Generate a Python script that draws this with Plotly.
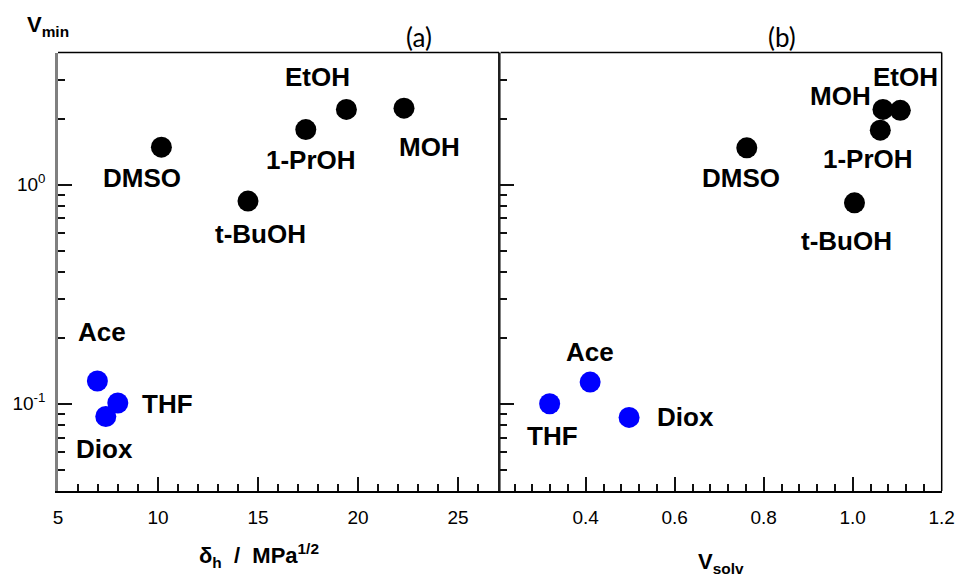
import math
import plotly.graph_objects as go

# ---- data ----
solvents_polar = ["DMSO", "t-BuOH", "1-PrOH", "EtOH", "MOH"]
solvents_apolar = ["Ace", "THF", "Diox"]

delta_h_polar = [10.17, 14.5, 17.39, 19.42, 22.3]
vmin_a_polar = [1.48, 0.84, 1.78, 2.20, 2.23]
delta_h_apolar = [6.97, 7.99, 7.39]
vmin_a_apolar = [0.127, 0.1008, 0.0875]

vsolv_polar = [0.762, 1.004, 1.062, 1.107, 1.068]
vmin_b_polar = [1.47, 0.825, 1.77, 2.18, 2.20]
vsolv_apolar = [0.41, 0.319, 0.4975]
vmin_b_apolar = [0.1256, 0.1, 0.0866]

ytick_vals = [0.1, 1]
ytick_text = ["10<sup>-1</sup>", "10<sup>0</sup>"]

# label offsets (pixels) relative to each point
off_a = {"DMSO": (-19, -31), "t-BuOH": (12, -33), "1-PrOH": (5, -30), "EtOH": (-29, 32),
         "MOH": (25, -39), "Ace": (5, 49), "THF": (50, -1), "Diox": (-1, -33)}
off_b = {"DMSO": (-6, -30), "t-BuOH": (-8, -38), "1-PrOH": (-12, -29), "EtOH": (5, 33),
         "MOH": (-42, 13), "Ace": (0, 30), "THF": (3, -32), "Diox": (56, 0)}

W, H = 957, 582
fig = go.Figure()

MS = 21
def add_pts(x, y, color, xa, ya):
    fig.add_trace(go.Scatter(x=x, y=y, mode="markers", xaxis=xa, yaxis=ya,
                             marker=dict(size=MS, color=color, line=dict(width=0)),
                             showlegend=False, hoverinfo="skip"))

add_pts(delta_h_polar, vmin_a_polar, "black", "x", "y")
add_pts(delta_h_apolar, vmin_a_apolar, "#0000ff", "x", "y")
add_pts(vsolv_polar, vmin_b_polar, "black", "x2", "y2")
add_pts(vsolv_apolar, vmin_b_apolar, "#0000ff", "x2", "y2")

LF = dict(family="Liberation Sans", size=26, color="black")
def add_labels(names, xs, ys, offs, xref, yref):
    for n, x, y in zip(names, xs, ys):
        dx, dy = offs[n]
        fig.add_annotation(x=x, y=math.log10(y), xref=xref, yref=yref, text="<b>%s</b>" % n,
                           showarrow=False, xshift=dx, yshift=dy, font=LF,
                           xanchor="center", yanchor="middle")

add_labels(solvents_polar, delta_h_polar, vmin_a_polar, off_a, "x", "y")
add_labels(solvents_apolar, delta_h_apolar, vmin_a_apolar, off_a, "x", "y")
add_labels(solvents_polar, vsolv_polar, vmin_b_polar, off_b, "x2", "y2")
add_labels(solvents_apolar, vsolv_apolar, vmin_b_apolar, off_b, "x2", "y2")

TF = dict(family="Liberation Sans", size=19, color="black")
TICK = "#111111"
common_y = dict(type="log", range=[math.log10(0.04), math.log10(4)], ticks="inside",
                ticklen=14, tickwidth=2, tickcolor=TICK, showgrid=False, zeroline=False,
                showline=True, linecolor="#808080", linewidth=2.5, automargin=False,
                tickmode="array", tickvals=ytick_vals,
                minor=dict(dtick="D1", ticks="inside", ticklen=7,
                           tickwidth=2, tickcolor=TICK, showgrid=False))

xdom_a = [58 / W, 499 / W]
xdom_b = [500.7 / W, 941.7 / W]
ydom = [1 - 491 / H, 1 - 52.5 / H]

fig.update_layout(
    width=W, height=H, autosize=False, margin=dict(l=0, r=0, t=0, b=0, pad=0),
    paper_bgcolor="white", plot_bgcolor="white",
    xaxis=dict(domain=xdom_a, range=[5, 27.05], anchor="y", automargin=False,
               ticks="inside", ticklen=14, tickwidth=2, tickcolor=TICK,
               tickmode="linear", tick0=5, dtick=5, tickfont=TF, ticklabelstandoff=8,
               showline=True, linecolor="black", linewidth=2, showgrid=False, zeroline=False,
               minor=dict(dtick=1, ticks="inside", ticklen=7, tickwidth=2,
                          tickcolor=TICK, showgrid=False)),
    yaxis=dict(domain=ydom, anchor="x", ticktext=ytick_text, ticklabelstandoff=6,
               tickfont=TF, **common_y),
    xaxis2=dict(domain=xdom_b, range=[0.209, 1.2], anchor="y2", automargin=False,
                ticks="inside", ticklen=14, tickwidth=2, tickcolor=TICK,
                tickmode="linear", tick0=0.4, dtick=0.2, tickformat=".1f", tickfont=TF,
                ticklabelstandoff=8,
                showline=True, linecolor="black", linewidth=2, showgrid=False, zeroline=False,
                minor=dict(dtick=0.04, ticks="inside", ticklen=7, tickwidth=2,
                           tickcolor=TICK, showgrid=False)),
    yaxis2=dict(domain=ydom, anchor="x2", showticklabels=False, **common_y),
)

# top / right borders of each panel
for xd in (xdom_a, xdom_b):
    fig.add_shape(type="line", xref="paper", yref="paper", x0=xd[0], x1=xd[1],
                  y0=ydom[1], y1=ydom[1], line=dict(color="black", width=1.5))
    fig.add_shape(type="line", xref="paper", yref="paper", x0=xd[1], x1=xd[1],
                  y0=ydom[0], y1=ydom[1], line=dict(color="black", width=1.5))

# panel titles
PF = dict(family="Lato", size=26, color="black")
fig.add_annotation(x=419 / W, y=1 - 37 / H, xref="paper", yref="paper", text="(a)",
                   showarrow=False, font=PF, xanchor="center", yanchor="middle")
fig.add_annotation(x=782 / W, y=1 - 37 / H, xref="paper", yref="paper", text="(b)",
                   showarrow=False, font=PF, xanchor="center", yanchor="middle")

AF = dict(family="Liberation Sans", size=22, color="black")
fig.add_annotation(x=25 / W, y=1 - 26 / H, xref="paper", yref="paper",
                   text="<b>V<sub>min</sub></b>", showarrow=False, font=AF,
                   xanchor="left", yanchor="middle")
fig.add_annotation(x=259 / W, y=1 - 555 / H, xref="paper", yref="paper",
                   text="<b>δ<sub>h</sub>  /  MPa<sup>1/2</sup></b>", showarrow=False, font=AF,
                   xanchor="center", yanchor="middle")
fig.add_annotation(x=721 / W, y=1 - 563 / H, xref="paper", yref="paper",
                   text="<b>V<sub>solv</sub></b>", showarrow=False, font=AF,
                   xanchor="center", yanchor="middle")

fig.write_html("out.html", config={"responsive": False})
